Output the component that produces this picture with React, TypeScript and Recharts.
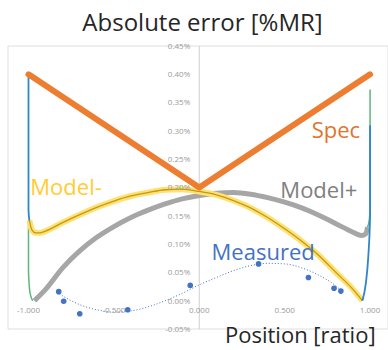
import React from 'react';
import {
  CartesianGrid,
  ComposedChart,
  Line,
  ReferenceDot,
  ReferenceLine,
  Scatter,
  XAxis,
  YAxis,
} from 'recharts';

// values in %MR, x in position ratio
const spec = [
  { x: -1, y: 0.4 },
  { x: 0, y: 0.2 },
  { x: 1, y: 0.4 },
];

const modelMinus = [
  { x: -0.995, y: 0.142 },
  { x: -0.98, y: 0.125 },
  { x: -0.96, y: 0.12 },
  { x: -0.93, y: 0.12 },
  { x: -0.9, y: 0.123 },
  { x: -0.8, y: 0.138 },
  { x: -0.7, y: 0.152 },
  { x: -0.6, y: 0.165 },
  { x: -0.5, y: 0.176 },
  { x: -0.4, y: 0.185 },
  { x: -0.3, y: 0.191 },
  { x: -0.2, y: 0.196 },
  { x: -0.1, y: 0.197 },
  { x: 0, y: 0.193 },
  { x: 0.1, y: 0.187 },
  { x: 0.2, y: 0.177 },
  { x: 0.3, y: 0.164 },
  { x: 0.4, y: 0.147 },
  { x: 0.5, y: 0.127 },
  { x: 0.6, y: 0.105 },
  { x: 0.7, y: 0.08 },
  { x: 0.8, y: 0.05 },
  { x: 0.9, y: 0.02 },
  { x: 0.955, y: 0 },
];

const modelPlus = [
  { x: -0.965, y: 0 },
  { x: -0.9, y: 0.02 },
  { x: -0.8, y: 0.058 },
  { x: -0.7, y: 0.088 },
  { x: -0.6, y: 0.112 },
  { x: -0.5, y: 0.131 },
  { x: -0.4, y: 0.147 },
  { x: -0.3, y: 0.16 },
  { x: -0.2, y: 0.171 },
  { x: -0.1, y: 0.18 },
  { x: 0, y: 0.186 },
  { x: 0.1, y: 0.19 },
  { x: 0.2, y: 0.191 },
  { x: 0.3, y: 0.188 },
  { x: 0.4, y: 0.182 },
  { x: 0.5, y: 0.174 },
  { x: 0.6, y: 0.164 },
  { x: 0.7, y: 0.151 },
  { x: 0.8, y: 0.136 },
  { x: 0.9, y: 0.121 },
  { x: 0.95, y: 0.115 },
  { x: 0.975, y: 0.118 },
  { x: 0.985, y: 0.13 },
];

// steep ends at the edges
const blueLeft = [
  { x: -1, y: 0.4 },
  { x: -1, y: 0.16 },
  { x: -0.995, y: 0.142 },
];
const greenLeft = [
  { x: -1, y: 0.142 },
  { x: -1, y: 0.05 },
  { x: -0.99, y: 0.012 },
  { x: -0.975, y: 0 },
];
const greenRight = [
  { x: 0.985, y: 0.13 },
  { x: 0.995, y: 0.142 },
  { x: 1, y: 0.16 },
  { x: 1, y: 0.373 },
];
const blueRight = [
  { x: 0.955, y: 0 },
  { x: 0.975, y: 0.03 },
  { x: 0.99, y: 0.08 },
  { x: 1, y: 0.15 },
  { x: 1, y: 0.31 },
];

const measured = [
  { x: -0.823, y: 0.016 },
  { x: -0.794, y: -0.001 },
  { x: -0.7, y: -0.023 },
  { x: -0.419, y: -0.016 },
  { x: -0.053, y: 0.027 },
  { x: 0.347, y: 0.065 },
  { x: 0.639, y: 0.041 },
  { x: 0.789, y: 0.022 },
  { x: 0.829, y: 0.017 },
];

const measuredTrend = [
  { x: -0.82, y: 0.012 },
  { x: -0.75, y: 0.0 },
  { x: -0.7, y: -0.007 },
  { x: -0.6, y: -0.016 },
  { x: -0.5, y: -0.02 },
  { x: -0.4, y: -0.018 },
  { x: -0.3, y: -0.011 },
  { x: -0.2, y: 0.0 },
  { x: -0.1, y: 0.013 },
  { x: 0, y: 0.028 },
  { x: 0.1, y: 0.041 },
  { x: 0.2, y: 0.053 },
  { x: 0.3, y: 0.062 },
  { x: 0.4, y: 0.066 },
  { x: 0.5, y: 0.065 },
  { x: 0.6, y: 0.058 },
  { x: 0.7, y: 0.045 },
  { x: 0.8, y: 0.026 },
  { x: 0.83, y: 0.018 },
];

const xTicks = [-1, -0.5, 0, 0.5, 1];
const yTicks = [-0.05, 0, 0.05, 0.1, 0.15, 0.2, 0.25, 0.3, 0.35, 0.4, 0.45];

const annotations = [
  { x: 0.8, y: 0.301, text: 'Spec', color: '#E2732E' },
  { x: -0.78, y: 0.2, text: 'Model-', color: '#FFCC33' },
  { x: 0.7, y: 0.195, text: 'Model+', color: '#808080' },
  { x: 0.374, y: 0.086, text: 'Measured', color: '#4472C4' },
];

const FONT = '"Open Sans", sans-serif';
const TICK_COLOR = '#9a9a9a';

export default function App() {
  return (
    <div style={{ position: 'absolute', left: 0, top: 0, width: 388, height: 350, background: '#fff', fontFamily: FONT }}>
      <ComposedChart width={388} height={350} margin={{ top: 46, right: 0, bottom: 21, left: 8 }}>
        <CartesianGrid stroke="#dedede" strokeWidth={1} />
        <XAxis
          type="number"
          dataKey="x"
          domain={[-1.12, 1.105]}
          ticks={xTicks}
          height={0}
          tick={false}
          axisLine={false}
          tickLine={false}
        />
        <YAxis
          type="number"
          dataKey="y"
          domain={[-0.05, 0.45]}
          ticks={yTicks}
          width={0}
          tick={false}
          axisLine={false}
          tickLine={false}
        />
        <ReferenceLine x={0} stroke="#d0d0d0" />

        {yTicks.map((v) => (
          <ReferenceDot
            key={`yt-${v}`}
            x={0}
            y={v}
            r={0}
            fill="none"
            stroke="none"
            label={{ value: `${v.toFixed(2)}%`, position: 'left', offset: 9, fill: TICK_COLOR, fontSize: 8, fontFamily: FONT }}
          />
        ))}
        {xTicks.map((v) => (
          <ReferenceDot
            key={`xt-${v}`}
            x={v}
            y={0}
            r={0}
            fill="none"
            stroke="none"
            label={{ value: v.toFixed(3), position: 'bottom', offset: 7, fill: TICK_COLOR, fontSize: 8, fontFamily: FONT }}
          />
        ))}

        <Line data={measuredTrend} dataKey="y" type="monotone" stroke="#4472C4" strokeWidth={1} strokeDasharray="1 2" dot={false} isAnimationActive={false} />
        <Scatter
          data={measured}
          dataKey="y"
          fill="#4472C4"
          isAnimationActive={false}
          shape={(p: any) => <circle cx={p.cx} cy={p.cy} r={2.8} fill="#4472C4" />}
        />

        <Line data={greenLeft} dataKey="y" type="monotone" stroke="#5CB878" strokeWidth={1.5} dot={false} isAnimationActive={false} />
        <Line data={greenRight} dataKey="y" type="monotone" stroke="#5CB878" strokeWidth={1.5} dot={false} isAnimationActive={false} />

        <Line data={modelPlus} dataKey="y" type="monotone" stroke="#A6A6A6" strokeWidth={5} dot={false} isAnimationActive={false} />
        <Line data={modelMinus} dataKey="y" type="monotone" stroke="#FFE173" strokeWidth={6} dot={false} isAnimationActive={false} />
        <Line data={modelMinus} dataKey="y" type="monotone" stroke="#C09A10" strokeWidth={1.3} dot={false} isAnimationActive={false} />

        <Line data={blueLeft} dataKey="y" type="monotone" stroke="#2F86C8" strokeWidth={1.8} dot={false} isAnimationActive={false} />
        <Line data={blueRight} dataKey="y" type="monotone" stroke="#2F86C8" strokeWidth={1.8} dot={false} isAnimationActive={false} />

        <Line data={spec} dataKey="y" type="linear" stroke="#ED7D31" strokeWidth={6} strokeLinecap="round" strokeLinejoin="round" dot={false} isAnimationActive={false} />

        {annotations.map((a) => (
          <ReferenceDot
            key={a.text}
            x={a.x}
            y={a.y}
            r={0}
            fill="none"
            stroke="none"
            label={{ value: a.text, position: 'center', fill: a.color, fontSize: 22, fontFamily: FONT }}
          />
        ))}
      </ComposedChart>

      <div style={{ position: 'absolute', left: 0, width: 405, top: 10, textAlign: 'center', fontSize: 24, lineHeight: '24px', color: '#262626' }}>
        Absolute error [%MR]
      </div>
      <div style={{ position: 'absolute', left: 225, top: 323, fontSize: 22, lineHeight: '22px', color: '#262626', whiteSpace: 'nowrap' }}>
        Position [ratio]
      </div>
    </div>
  );
}
